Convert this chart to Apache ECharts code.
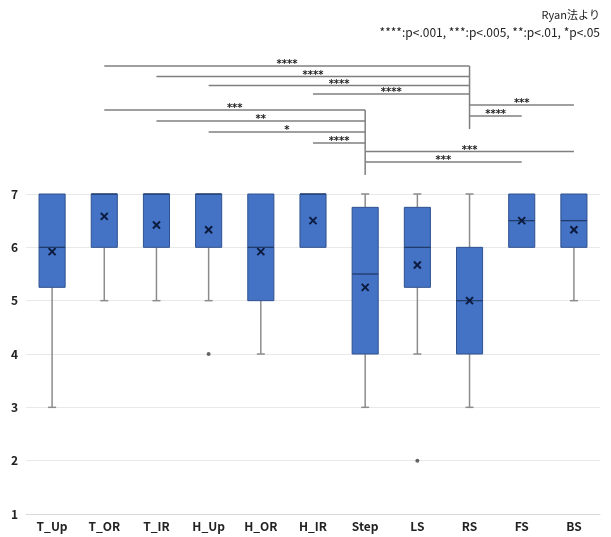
<!DOCTYPE html>
<html>
<head>
<meta charset="utf-8">
<script src="https://cdn.jsdelivr.net/npm/echarts@6/dist/echarts.min.js"></script>
<style>
  html, body { margin: 0; padding: 0; background: #ffffff; }
  #chart { width: 611px; height: 537px; }
</style>
</head>
<body>
<div id="chart"></div>
<script>
// Five-number summaries per condition (7-point scale)
const categories  = ['T_Up', 'T_OR', 'T_IR', 'H_Up', 'H_OR', 'H_IR', 'Step', 'LS', 'RS', 'FS', 'BS'];
const whiskerLow  = [3,    5,    5,    5,    4,    6,    3,    4,    3,    6,    5];
const q1          = [5.25, 6,    6,    6,    5,    6,    4,    5.25, 4,    6,    6];
const median      = [6,    7,    7,    7,    6,    7,    5.5,  6,    5,    6.5,  6.5];
const q3          = [7,    7,    7,    7,    7,    7,    6.75, 6.75, 6,    7,    7];
const whiskerHigh = [7,    7,    7,    7,    7,    7,    7,    7,    7,    7,    7];
const means       = [5.92, 6.58, 6.42, 6.33, 5.92, 6.5,  5.25, 5.67, 5.0,  6.5,  6.33];
const outlierCat  = ['H_Up', 'LS'];
const outlierVal  = [4, 2];
const yTicks      = [1, 2, 3, 4, 5, 6, 7];

// Pairwise comparisons (Ryan method), stacked rows above the plot
const pairFrom  = ['T_OR', 'T_IR', 'H_Up', 'H_IR', 'BS',  'FS',   'T_OR', 'T_IR', 'H_Up', 'H_IR', 'BS',  'FS'];
const pairTo    = ['RS',   'RS',   'RS',   'RS',   'RS',  'RS',   'Step', 'Step', 'Step', 'Step', 'Step', 'Step'];
const pairStars = ['****', '****', '****', '****', '***', '****', '***',  '**',   '*',    '****', '***',  '***'];
const pairRow   = [0,      1.05,   1.95,   2.8,    3.9,   5.0,    4.4,    5.5,    6.6,    7.7,    8.55,   9.6];

const noteTitle = 'Ryan法より';
const noteLegend = '****:p<.001, ***:p<.005, **:p<.01, *p<.05';

const boxData = categories.map((c, i) => [i, whiskerLow[i], q1[i], median[i], q3[i], whiskerHigh[i]]);
const meanData = categories.map((c, i) => [i, means[i]]);
const outlierData = outlierCat.map((c, i) => [categories.indexOf(c), outlierVal[i]]);
const pairData = pairFrom.map((f, i) => [categories.indexOf(f), categories.indexOf(pairTo[i]), pairRow[i], pairStars[i]]);

// vertical stems joining each comparison group at its shared category
const stemData = [];
[...new Set(pairTo)].forEach(t => {
  const rows = pairRow.filter((r, i) => pairTo[i] === t);
  stemData.push([categories.indexOf(t), Math.min(...rows), Math.max(...rows) + 1.3]);
});

const labelFont = '"Noto Sans CJK JP", "Noto Sans", sans-serif';

const chart = echarts.init(document.getElementById('chart'), null, { renderer: 'canvas' });

chart.setOption({
  animation: false,
  backgroundColor: '#ffffff',
  graphic: [
    { type: 'text', right: 11, top: 9,
      style: { text: noteTitle, font: '11px ' + labelFont, fill: '#222', textAlign: 'right' } },
    { type: 'text', right: 11, top: 26,
      style: { text: noteLegend, font: '12px ' + labelFont, fill: '#222', textAlign: 'right' } }
  ],
  grid: [
    { left: 26, right: 11, top: 194, bottom: 23 },
    { left: 26, right: 11, top: 66, height: 110 }
  ],
  xAxis: [
    {
      type: 'category', gridIndex: 0, data: categories,
      axisLine: { show: true, lineStyle: { color: '#d9d9d9', width: 1 } },
      axisTick: { show: false },
      axisLabel: { color: '#222', fontWeight: 'bold', fontSize: 12, fontFamily: labelFont, margin: 6 }
    },
    {
      type: 'category', gridIndex: 1, data: categories, show: false
    }
  ],
  yAxis: [
    {
      type: 'value', gridIndex: 0, min: yTicks[0], max: yTicks[yTicks.length - 1], interval: 1,
      axisLine: { show: false }, axisTick: { show: false },
      axisLabel: { color: '#222', fontWeight: 'bold', fontSize: 12, fontFamily: labelFont, margin: 8 },
      splitLine: { lineStyle: { color: '#e8e8e8', width: 1 } }
    },
    {
      type: 'value', gridIndex: 1, min: 0, max: 11, inverse: true, show: false
    }
  ],
  series: [
    {
      // boxes with gray whiskers
      type: 'custom', xAxisIndex: 0, yAxisIndex: 0,
      data: boxData,
      encode: { x: 0, y: [1, 2, 3, 4, 5] },
      renderItem: function (params, api) {
        const x = api.value(0);
        const band = api.size([1, 0])[0];
        const bw = band * 0.5;
        const cap = 8;
        const pLow = api.coord([x, api.value(1)]);
        const pQ1 = api.coord([x, api.value(2)]);
        const pMed = api.coord([x, api.value(3)]);
        const pQ3 = api.coord([x, api.value(4)]);
        const pHigh = api.coord([x, api.value(5)]);
        const cx = pQ1[0];
        const wStyle = { stroke: '#8c8c8c', lineWidth: 1.5 };
        const children = [];
        if (api.value(1) < api.value(2)) {
          children.push({ type: 'line', shape: { x1: cx, y1: pQ1[1], x2: cx, y2: pLow[1] }, style: wStyle });
          children.push({ type: 'line', shape: { x1: cx - cap / 2, y1: pLow[1], x2: cx + cap / 2, y2: pLow[1] }, style: wStyle });
        }
        if (api.value(5) > api.value(4)) {
          children.push({ type: 'line', shape: { x1: cx, y1: pQ3[1], x2: cx, y2: pHigh[1] }, style: wStyle });
          children.push({ type: 'line', shape: { x1: cx - cap / 2, y1: pHigh[1], x2: cx + cap / 2, y2: pHigh[1] }, style: wStyle });
        }
        children.push({
          type: 'rect',
          shape: { x: cx - bw / 2, y: pQ3[1], width: bw, height: pQ1[1] - pQ3[1] },
          style: { fill: '#4472c4', stroke: '#2f528f', lineWidth: 1 }
        });
        children.push({
          type: 'line',
          shape: { x1: cx - bw / 2, y1: pMed[1], x2: cx + bw / 2, y2: pMed[1] },
          style: { stroke: '#1f3864', lineWidth: 1.2 }
        });
        return { type: 'group', children: children };
      },
      z: 2
    },
    {
      // mean markers (x)
      type: 'custom', xAxisIndex: 0, yAxisIndex: 0,
      data: meanData,
      encode: { x: 0, y: 1 },
      renderItem: function (params, api) {
        const p = api.coord([api.value(0), api.value(1)]);
        const s = 3.5;
        const st = { stroke: '#0d1b3e', lineWidth: 2 };
        return {
          type: 'group',
          children: [
            { type: 'line', shape: { x1: p[0] - s, y1: p[1] - s, x2: p[0] + s, y2: p[1] + s }, style: st },
            { type: 'line', shape: { x1: p[0] - s, y1: p[1] + s, x2: p[0] + s, y2: p[1] - s }, style: st }
          ]
        };
      },
      z: 4
    },
    {
      // outliers
      type: 'scatter', xAxisIndex: 0, yAxisIndex: 0,
      data: outlierData,
      symbol: 'circle', symbolSize: 4,
      itemStyle: { color: '#404040' },
      z: 4
    },
    {
      // comparison lines with significance stars
      type: 'custom', xAxisIndex: 1, yAxisIndex: 1,
      data: pairData,
      encode: { x: [0, 1], y: 2 },
      renderItem: function (params, api) {
        const a = api.coord([api.value(0), api.value(2)]);
        const b = api.coord([api.value(1), api.value(2)]);
        const x1 = Math.min(a[0], b[0]);
        const x2 = Math.max(a[0], b[0]);
        const y = a[1];
        return {
          type: 'group',
          children: [
            { type: 'line', shape: { x1: x1, y1: y, x2: x2, y2: y }, style: { stroke: '#7f7f7f', lineWidth: 1.5 } },
            { type: 'text', style: {
                x: (x1 + x2) / 2, y: y - 1.5, text: pairData[params.dataIndex][3],
                textAlign: 'center', textVerticalAlign: 'middle',
                font: 'bold 10px "DejaVu Sans", sans-serif', fill: '#222'
              } }
          ]
        };
      }
    },
    {
      // stems
      type: 'custom', xAxisIndex: 1, yAxisIndex: 1,
      data: stemData,
      encode: { x: 0, y: [1, 2] },
      renderItem: function (params, api) {
        const a = api.coord([api.value(0), api.value(1)]);
        const b = api.coord([api.value(0), api.value(2)]);
        return { type: 'line', shape: { x1: a[0], y1: a[1], x2: b[0], y2: b[1] }, style: { stroke: '#7f7f7f', lineWidth: 1.5 } };
      }
    }
  ]
});
</script>
</body>
</html>
